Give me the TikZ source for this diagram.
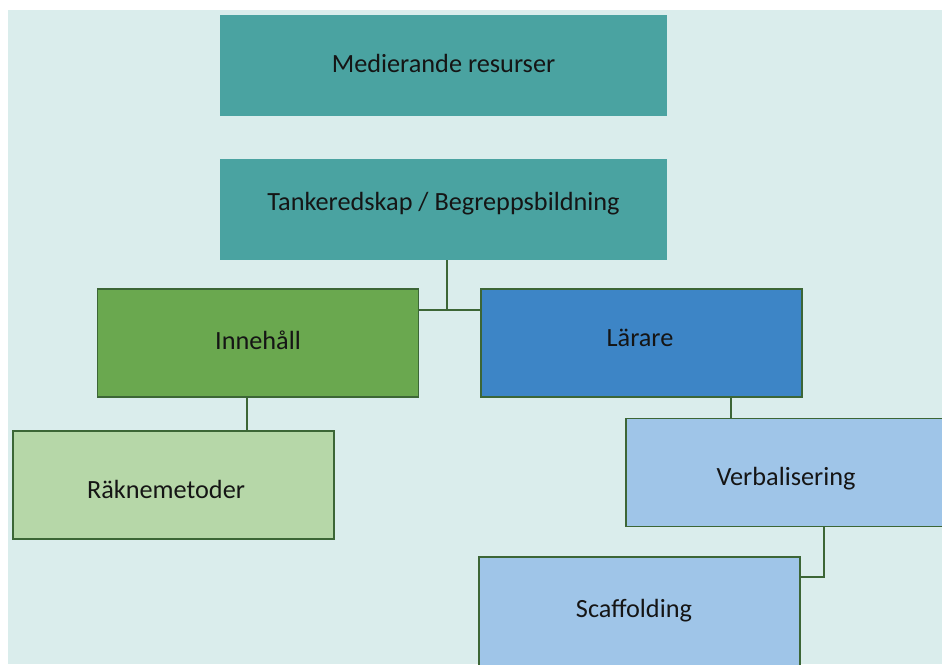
\documentclass[tikz,border=0pt]{standalone}
\usepackage{fontspec}
\setmainfont{Carlito}
\definecolor{bgcyan}{HTML}{DAEDEC}
\definecolor{tealbox}{HTML}{4AA3A1}
\definecolor{greenbox}{HTML}{6AA84F}
\definecolor{bluebox}{HTML}{3D85C6}
\definecolor{lgreenbox}{HTML}{B6D7A8}
\definecolor{lbluebox}{HTML}{9FC5E8}
\definecolor{edgegreen}{HTML}{3C6636}
\definecolor{txt}{HTML}{151515}
\begin{document}
\begin{tikzpicture}[x=0.75pt,y=-0.75pt,
  box/.style={rectangle, inner sep=0pt, minimum width=240.75pt, minimum height=81pt},
  topbox/.style={box, fill=tealbox, draw=none, minimum width=335.25pt, minimum height=75.75pt},
  lvlbox/.style={box, draw=edgegreen, line width=1.2pt},
  lbl/.style={inner sep=0pt, text=txt, font=\fontsize{19.7}{22}\selectfont},
  link/.style={draw=edgegreen, line width=1.4pt}]
\clip (0,0) rectangle (942,664);
\fill[white] (0,0) rectangle (942,664);
\fill[bgcyan] (8,10) rectangle (942,664);

\node[topbox] (med) at (443.5,65.5) {};
\node[topbox] (tank) at (443.5,209.5) {};
\node[lvlbox, fill=greenbox] (inn) at (258,343) {};
\node[lvlbox, fill=bluebox] (lar) at (641.5,343) {};
\node[lvlbox, fill=lgreenbox] (rak) at (173.5,485) {};
\node[lvlbox, fill=lbluebox] (verb) at (786.5,472.5) {};
\node[lvlbox, fill=lbluebox, minimum height=90pt] (scaf) at (639.5,617) {};

\node[lbl] (medt) at (443.5,63.5) {Medierande resurser};
\node[lbl] (tankt) at (443.5,204) {Tankeredskap / Begreppsbildning};
\node[lbl] (innt) at (258,340) {Innehåll};
\node[lbl] (lart) at (640,338) {Lärare};
\node[lbl] (rakt) at (166,489) {Räknemetoder};
\node[lbl] (verbt) at (786,479) {Verbalisering};
\node[lbl] (scaft) at (634,611) {Scaffolding};

\coordinate (j) at (446.7,310);
\coordinate (c1) at (247,0);
\coordinate (c2) at (731,0);
\coordinate (c3) at (824,577);

\draw[link] (j |- tank.south) -- (j);
\draw[link] (inn.east |- j) -- (lar.west |- j);
\draw[link] (inn.south -| c1) -- (rak.north -| c1);
\draw[link] (lar.south -| c2) -- (verb.north -| c2);
\draw[link] (verb.south -| c3) -- (c3) -- (scaf.east |- c3);
\end{tikzpicture}
\end{document}
